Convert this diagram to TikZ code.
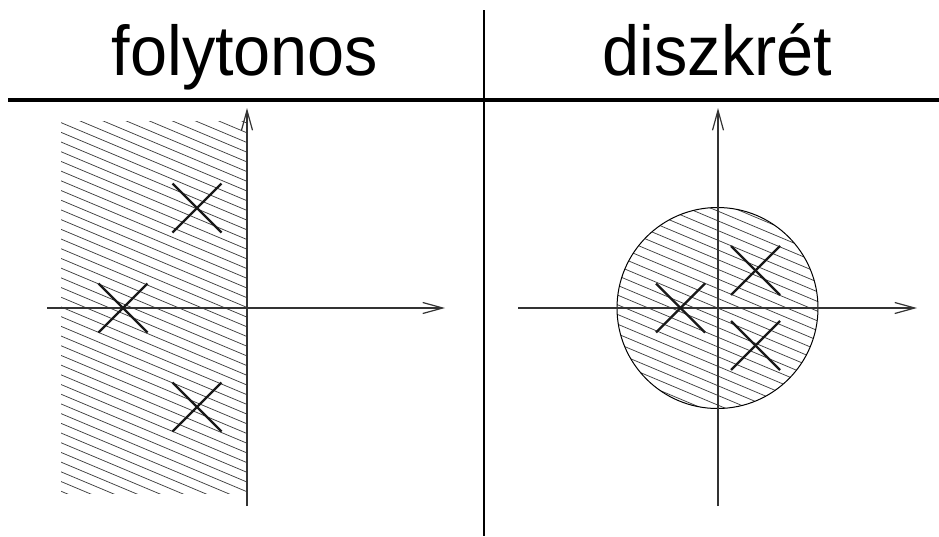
\documentclass[tikz,border=0pt]{standalone}
\usepackage{fontspec}
\setmainfont{Liberation Sans}
\usetikzlibrary{arrows.meta,calc}
\tikzset{
  axis/.style={line width=1.2pt, black!80, -{Straight Barb[length=20pt,width=11pt,line width=1.2pt]}},
  hatch/.style={line width=0.75pt, black!75},
  crossline/.style={line width=2.4pt, black!90},
  rule/.style={line width=3.6pt},
  divider/.style={line width=2.6pt},
  title/.style={anchor=base, inner sep=0pt, font=\fontsize{70.5}{78}\selectfont}
}
\begin{document}
\begin{tikzpicture}[x=1pt,y=-1pt]
\useasboundingbox (0,0) rectangle (939,536);
% titles
\node[title] (t1) at (245,75) {\scalebox{0.945}[1]{folytonos}};
\node[title] (t2) at (717.5,75) {\scalebox{0.945}[1]{diszkrét}};
% rules
\coordinate (hl) at (8,100);
\coordinate (hr) at (939,100);
\coordinate (vt) at (484,10);
\coordinate (vb) at (484,536);
\draw[rule] (hl) -- (hr);
\draw[divider] (vt) -- (vb);
% left hatch region
\begin{scope}
  \clip (61,121) rectangle (247,493);
  \foreach \c in {0,9.7,...,490} {\draw[hatch] (0,\c) -- (300,\c+126);}
\end{scope}
% right hatch circle
\begin{scope}
  \clip (717.5,308) circle[radius=100.5pt];
  \foreach \c in {-126.1,-116.4,...,130} {\draw[hatch] (600,308+\c-49.4) -- (840,308+\c+51.4);}
\end{scope}
\draw[line width=1pt] (717.5,308) circle[radius=100.5pt];
% left axes
\coordinate (lx0) at (47,308);
\coordinate (lx1) at (445,308);
\coordinate (ly0) at (247,506);
\coordinate (ly1) at (247,108);
\draw[axis] (lx0) -- (lx1);
\draw[axis] (ly0) -- (ly1);
% right axes
\coordinate (rx0) at (518,308);
\coordinate (rx1) at (917,308);
\coordinate (ry0) at (718,506);
\coordinate (ry1) at (718,108);
\draw[axis] (rx0) -- (rx1);
\draw[axis] (ry0) -- (ry1);
% crosses
\foreach \n/\x/\y in {a/197/208, b/123/308, c/197/407, d/755.5/270.5, e/680.5/308, f/755.5/345.5} {
  \coordinate (\n) at (\x,\y);
  \draw[crossline] ($(\n)+(-24.5,-24.5)$) -- ($(\n)+(24.5,24.5)$);
  \draw[crossline] ($(\n)+(-24.5,24.5)$) -- ($(\n)+(24.5,-24.5)$);
}
\end{tikzpicture}
\end{document}
